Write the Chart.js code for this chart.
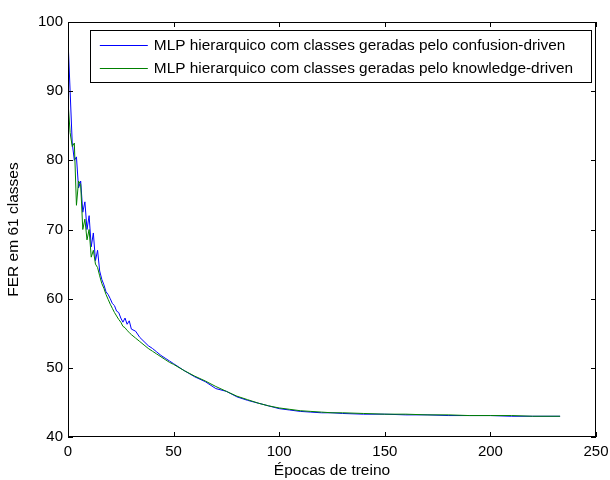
<!DOCTYPE html>
<html>
<head>
<meta charset="utf-8">
<script src="https://cdn.jsdelivr.net/npm/chart.js@4/dist/chart.umd.min.js"></script>
<style>
  html, body { margin: 0; padding: 0; background: #fff; }
  canvas { display: block; }
</style>
</head>
<body>
<canvas id="chart" width="610" height="480"></canvas>
<script>
// epocas (eixo x) e FER das duas redes
const epocas = [0,1,2,3,4,5,6,7,8,9,10,11,12,13,14,15,16,17,18,19,20,21,22,23,24,25,26,27,28,29,30,
    32,34,36,38,40,42,44,46,48,50,55,60,65,70,75,80,85,90,95,100,105,110,115,120,125,130,
    140,150,160,170,180,190,200,210,220,233];

const ferConfusion = [97.5,90,82.5,80,80.5,76,77,72.5,74,70,72,67.5,69.5,65.5,67,64,62.8,62,61,60.6,60,59.3,59,58.2,58,57.2,56.6,57.2,56.3,56.8,55.6,
    55.3,54.4,53.8,53.2,52.8,52.3,51.8,51.4,51.0,50.6,49.6,48.7,48.0,47.0,46.6,45.8,45.3,44.9,44.5,44.1,43.9,43.7,43.6,43.5,43.5,43.4,
    43.3,43.3,43.2,43.2,43.1,43.1,43.1,43.0,43.0,43.0];

const ferKnowledge = [88.5,84,82,82.5,73.5,77,76.5,70,71.5,68.5,70,66,67,65,64.5,63.3,62.2,61.5,60.6,59.9,59.2,58.6,58.0,57.5,57.0,56.6,56.0,55.8,55.4,55.1,54.8,
    54.3,53.8,53.3,52.8,52.4,52.0,51.6,51.2,50.8,50.5,49.6,48.8,48.1,47.3,46.6,45.9,45.4,44.9,44.5,44.2,44.0,43.8,43.7,43.6,43.5,43.5,
    43.4,43.3,43.3,43.2,43.2,43.1,43.1,43.1,43.0,43.0];

const xTicks = [0, 50, 100, 150, 200, 250];
const yTicks = [40, 50, 60, 70, 80, 90, 100];

const FONT = "'Liberation Sans', Arial, sans-serif";

// moldura com marcas para dentro, estilo matlab
const framePlugin = {
    id: 'frame',
    afterDraw(chart) {
        const c = chart.ctx;
        const a = chart.chartArea;
        const sx = chart.scales.x, sy = chart.scales.y;
        c.save();
        c.strokeStyle = '#000';
        c.lineWidth = 1;
        c.strokeRect(a.left + 0.5, a.top + 0.5, a.right - a.left - 1, a.bottom - a.top - 1);
        c.beginPath();
        xTicks.forEach(v => {
            const px = Math.round(sx.getPixelForValue(v)) + 0.5;
            c.moveTo(px, a.bottom); c.lineTo(px, a.bottom - 5);
            c.moveTo(px, a.top); c.lineTo(px, a.top + 5);
        });
        yTicks.forEach(v => {
            const py = Math.round(sy.getPixelForValue(v)) + 0.5;
            c.moveTo(a.left, py); c.lineTo(a.left + 5, py);
            c.moveTo(a.right, py); c.lineTo(a.right - 5, py);
        });
        c.stroke();
        c.restore();
    }
};

// legenda dentro do grafico (canto superior direito)
const legendPlugin = {
    id: 'boxLegend',
    afterDraw(chart) {
        const c = chart.ctx;
        const a = chart.chartArea;
        c.save();
        c.font = '15.4px ' + FONT;
        const sets = [chart.data.datasets[0], chart.data.datasets[1]];
        const tw = Math.max(...sets.map(d => c.measureText(d.label).width));
        const right = a.right - 5;
        const left = right - (64 + tw + 18);
        const top = a.top + 8;
        const h = 52;
        c.fillStyle = '#fff';
        c.fillRect(left, top, right - left, h);
        c.strokeStyle = '#000';
        c.lineWidth = 1;
        c.strokeRect(Math.round(left) + 0.5, top + 0.5, Math.round(right - left), h);
        sets.forEach((d, i) => {
            const y = top + 15 + i * 23;
            c.strokeStyle = d.borderColor;
            c.beginPath();
            c.moveTo(left + 10, y + 0.5);
            c.lineTo(left + 58, y + 0.5);
            c.stroke();
            c.fillStyle = '#000';
            c.textBaseline = 'middle';
            c.textAlign = 'left';
            c.fillText(d.label, left + 64, y + 1);
        });
        c.restore();
    }
};

const ctx = document.getElementById('chart').getContext('2d');

new Chart(ctx, {
    type: 'line',
    data: {
        datasets: [
            {
                label: 'MLP hierarquico com classes geradas pelo confusion-driven',
                data: epocas.map((e, i) => ({ x: e, y: ferConfusion[i] })),
                borderColor: '#0000ff',
                borderWidth: 1,
                pointRadius: 0,
                tension: 0,
                order: 1
            },
            {
                label: 'MLP hierarquico com classes geradas pelo knowledge-driven',
                data: epocas.map((e, i) => ({ x: e, y: ferKnowledge[i] })),
                borderColor: '#008000',
                borderWidth: 1,
                pointRadius: 0,
                tension: 0,
                order: 0
            }
        ]
    },
    options: {
        responsive: false,
        animation: false,
        layout: { padding: { left: 0, right: 14, top: 22, bottom: 0 } },
        plugins: {
            legend: { display: false },
            tooltip: { enabled: false }
        },
        scales: {
            x: {
                type: 'linear',
                min: 0,
                max: 250,
                afterBuildTicks: s => { s.ticks = xTicks.map(v => ({ value: v })); },
                afterFit: s => { s.height = 43; s.paddingLeft = 0; s.paddingRight = 0; },
                grid: { display: false, drawTicks: false },
                border: { display: false },
                ticks: { color: '#000', padding: 6, font: { family: FONT, size: 15 } },
                title: {
                    display: true,
                    text: 'Épocas de treino',
                    color: '#000',
                    padding: { top: 0, bottom: 0 },
                    font: { family: FONT, size: 15.5 }
                }
            },
            y: {
                min: 40,
                max: 100,
                afterBuildTicks: s => { s.ticks = yTicks.map(v => ({ value: v })); },
                afterFit: s => { s.width = 68; s.paddingTop = 0; s.paddingBottom = 0; },
                grid: { display: false, drawTicks: false },
                border: { display: false },
                ticks: { color: '#000', padding: 5, font: { family: FONT, size: 15 } },
                title: {
                    display: true,
                    text: 'FER em 61 classes',
                    color: '#000',
                    padding: { top: 4, bottom: 0 },
                    font: { family: FONT, size: 15.5 }
                }
            }
        }
    },
    plugins: [framePlugin, legendPlugin]
});
</script>
</body>
</html>
